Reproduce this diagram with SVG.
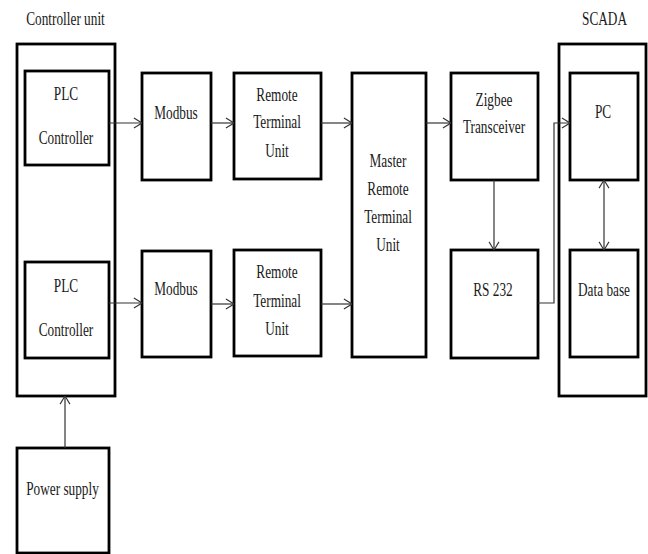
<svg xmlns="http://www.w3.org/2000/svg" width="648" height="554" viewBox="0 0 648 554">
<style>
.box{fill:none;stroke:#000;stroke-width:2.8}
.t{font-family:"Liberation Serif","Times New Roman",serif;font-size:19px;fill:#1a1a1a;text-anchor:middle}
.c{fill:none;stroke:#333;stroke-width:1.2}
</style>
<defs>
<marker id="ah" viewBox="0 0 10 12" refX="10" refY="6" markerWidth="9" markerHeight="12" markerUnits="userSpaceOnUse" orient="auto-start-reverse">
<path d="M1,0.5 L10,6 L1,11.5" fill="none" stroke="#333" stroke-width="1.2"/>
</marker>
</defs>
<rect width="648" height="554" fill="#fff"/>

<g id="controller-unit">
<rect class="box" x="17" y="44" width="98" height="352"/>
<text class="t" transform="matrix(0.7 0 0 1 65.5 25)">Controller unit</text>
</g>
<g id="plc1">
<rect class="box" x="25" y="71" width="84" height="94"/>
<text class="t" transform="matrix(0.7 0 0 1 66 100)">PLC</text>
<text class="t" transform="matrix(0.7 0 0 1 66 144)">Controller</text>
</g>
<g id="plc2">
<rect class="box" x="25" y="262" width="84" height="96"/>
<text class="t" transform="matrix(0.7 0 0 1 66 292)">PLC</text>
<text class="t" transform="matrix(0.7 0 0 1 66 336)">Controller</text>
</g>
<g id="modbus1">
<rect class="box" x="142" y="73" width="69" height="107"/>
<text class="t" transform="matrix(0.7 0 0 1 176 119)">Modbus</text>
</g>
<g id="modbus2">
<rect class="box" x="142" y="251" width="69" height="106"/>
<text class="t" transform="matrix(0.7 0 0 1 176 295)">Modbus</text>
</g>
<g id="rtu1">
<rect class="box" x="234" y="73" width="87" height="106"/>
<text class="t" transform="matrix(0.7 0 0 1 277 101)">Remote</text>
<text class="t" transform="matrix(0.7 0 0 1 277 128)">Terminal</text>
<text class="t" transform="matrix(0.7 0 0 1 277 157)">Unit</text>
</g>
<g id="rtu2">
<rect class="box" x="234" y="250" width="87" height="106"/>
<text class="t" transform="matrix(0.7 0 0 1 277 278)">Remote</text>
<text class="t" transform="matrix(0.7 0 0 1 277 307)">Terminal</text>
<text class="t" transform="matrix(0.7 0 0 1 277 335)">Unit</text>
</g>
<g id="master-rtu">
<rect class="box" x="352" y="73" width="74" height="284"/>
<text class="t" transform="matrix(0.7 0 0 1 388 167)">Master</text>
<text class="t" transform="matrix(0.7 0 0 1 388 195)">Remote</text>
<text class="t" transform="matrix(0.7 0 0 1 388 223)">Terminal</text>
<text class="t" transform="matrix(0.7 0 0 1 388 251)">Unit</text>
</g>
<g id="zigbee">
<rect class="box" x="451" y="73" width="87" height="107"/>
<text class="t" transform="matrix(0.7 0 0 1 494 106)">Zigbee</text>
<text class="t" transform="matrix(0.7 0 0 1 494 133)">Transceiver</text>
</g>
<g id="rs232">
<rect class="box" x="451" y="250" width="87" height="108"/>
<text class="t" transform="matrix(0.7 0 0 1 493 296)">RS 232</text>
</g>
<g id="scada">
<rect class="box" x="559" y="44" width="87" height="352"/>
<text class="t" transform="matrix(0.7 0 0 1 604.5 25)">SCADA</text>
</g>
<g id="pc">
<rect class="box" x="570" y="73" width="68" height="107"/>
<text class="t" transform="matrix(0.7 0 0 1 603 118)">PC</text>
</g>
<g id="database">
<rect class="box" x="570" y="250" width="68" height="107"/>
<text class="t" transform="matrix(0.7 0 0 1 604 296)">Data base</text>
</g>
<g id="power-supply">
<rect class="box" x="17" y="448" width="92" height="105"/>
<text class="t" transform="matrix(0.7 0 0 1 62.5 495)">Power supply</text>
</g>

<g id="connectors" class="c" marker-end="url(#ah)">
<line x1="109" y1="123" x2="142" y2="123"/>
<line x1="211" y1="123" x2="234" y2="123"/>
<line x1="321" y1="123" x2="352" y2="123"/>
<line x1="426" y1="123" x2="451" y2="123"/>
<line x1="109" y1="303" x2="142" y2="303"/>
<line x1="211" y1="304" x2="234" y2="304"/>
<line x1="321" y1="304" x2="352" y2="304"/>
<line x1="494" y1="180" x2="494" y2="250"/>
<polyline points="538,303 554,303 554,123 570,123"/>
<line x1="604" y1="180" x2="604" y2="250" marker-start="url(#ah)"/>
<line x1="65" y1="448" x2="65" y2="396"/>
</g>
</svg>
